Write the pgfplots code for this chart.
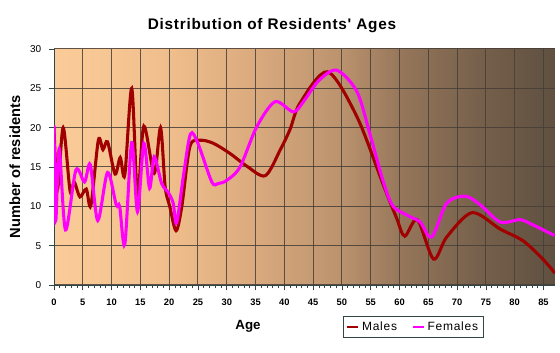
\documentclass[border=0pt]{standalone}
\usepackage{fontspec}
\setmainfont{Liberation Sans}
\newfontfamily\titlefont[LetterSpace=5]{Liberation Sans}
\newfontfamily\legfont[LetterSpace=6]{Liberation Sans}
\usepackage{pgfplots}
\pgfplotsset{compat=1.18}
\pgfdeclarehorizontalshading{bgshade}{100bp}{rgb(0bp)=(0.984,0.800,0.600); rgb(25bp)=(0.984,0.800,0.600); rgb(36.5bp)=(0.941,0.745,0.549); rgb(45bp)=(0.855,0.667,0.494); rgb(53.5bp)=(0.737,0.576,0.431); rgb(60bp)=(0.580,0.459,0.353); rgb(67.5bp)=(0.463,0.376,0.294); rgb(75bp)=(0.373,0.314,0.251); rgb(100bp)=(0.373,0.314,0.251)}
\definecolor{males}{RGB}{160,0,0}
\definecolor{females}{RGB}{255,0,255}
\definecolor{gridc}{RGB}{70,62,55}
\definecolor{axc}{RGB}{50,70,70}
\begin{document}
\begin{tikzpicture}[x=0.75pt,y=0.75pt]
\path[use as bounding box] (-54,-68) rectangle (506,285);
\begin{axis}[
  at={(0,0)}, anchor=south west,
  scale only axis, width=375.75pt, height=177pt,
  xmin=0, xmax=87, ymin=0, ymax=30,
  axis x line=bottom, axis y line=left,
  axis line style={draw=axc, line width=0.6pt, -},
  xtick={0,5,...,85}, ytick={0,5,...,30},
  minor x tick num=4,
  tick align=outside,
  major tick length=4pt, minor tick length=2.5pt,
  tick style={draw=axc, line width=0.5pt},
  grid=major,
  major grid style={draw=gridc, line width=0.75pt, opacity=0.85},
  /pgf/number format/assume math mode=true,
  xticklabel style={font=\fontsize{7}{8}\selectfont\bfseries, yshift=-3pt},
  yticklabel style={font=\fontsize{7.5}{8}\selectfont, xshift=-2pt},
  axis background/.style={shading=bgshade},
  legend columns=2,
  legend style={at={(0.577,-0.131)}, anchor=north west, draw=axc, line width=0.6pt,
    fill=white, font=\fontsize{9}{11}\selectfont\legfont,
    inner xsep=2pt, inner ysep=2pt,
    /tikz/every even column/.append style={column sep=9pt}},
  legend image code/.code={\draw[#1, line width=2pt] (0pt,0pt) -- (8pt,0pt);},
]
\addplot[males, line width=2.3pt, smooth, tension=0.5] coordinates {
(0,20) (0.6,12.1) (1.6,20) (2.8,11.9) (3.5,13.1) (4.5,11.2) (5.6,12.2) (6.4,10.1)
(7.7,18.4) (8.5,17.2) (9.3,18.2) (10.6,14.1) (11.5,16.2) (12.3,14) (13.5,25)
(14.5,11.4) (15.6,20.2) (17.4,14.2) (18.5,20) (19.3,12.5) (20.1,10) (21.2,6.9)
(22.2,10) (23.6,17.6) (25.4,18.4) (27.7,18.0) (30.6,16.7) (33.5,15.1) (36.7,13.9)
(39.3,17.2) (41,19.8) (42.7,23.1) (47.5,27.1) (52.6,21.4) (57.2,12.7) (59.5,8.5)
(60.9,6.2) (63.1,8.3) (65.9,3.3) (68.2,6.1) (72.6,9.2) (77.5,7.1) (81.5,5.6)
(85,3.2) (87,1.5)};
\addlegendentry{Males}
\addplot[females, line width=2.3pt, smooth, tension=0.5] coordinates {
(0,20.3) (0.3,8.2) (0.9,17.3) (2.0,7.0) (3.8,14.6) (5.3,13.1) (6.3,15.3) (7.6,8.2)
(9.3,14.3) (10.8,10.2) (11.4,10) (12.3,5.2) (13.5,18.1) (14.5,9.3) (15.6,18)
(16.6,12.3) (17.4,16.3) (18.7,12.9) (19.9,11.7) (20.7,10.4) (21.3,7.9) (22.5,14)
(23.7,19.2) (25,18) (27.4,13.1) (28.5,12.9) (30,13.3) (32.3,15.0) (35.2,20.1)
(38.4,23.3) (41.6,22.0) (43.5,23.5) (46,26) (49.1,27.3) (52.6,24.6) (54.9,19.1)
(57.2,13.1) (58.9,10) (61.8,8.7) (63.6,8.0) (65.6,6.1) (68.2,10.4) (71.4,11.3)
(74,10.2) (77.5,8.0) (80.9,8.3) (83,7.7) (86.9,6.3)};
\addlegendentry{Females}
\end{axis}
\node[font=\fontsize{11.5}{13}\selectfont\titlefont\bfseries] at (218,259) {Distribution of Residents' Ages};
\node[font=\fontsize{10}{12}\selectfont\bfseries] at (194,-41) {Age};
\node[font=\fontsize{11}{12}\selectfont\bfseries, rotate=90] at (-39,118) {Number of residents};
\end{tikzpicture}
\end{document}
